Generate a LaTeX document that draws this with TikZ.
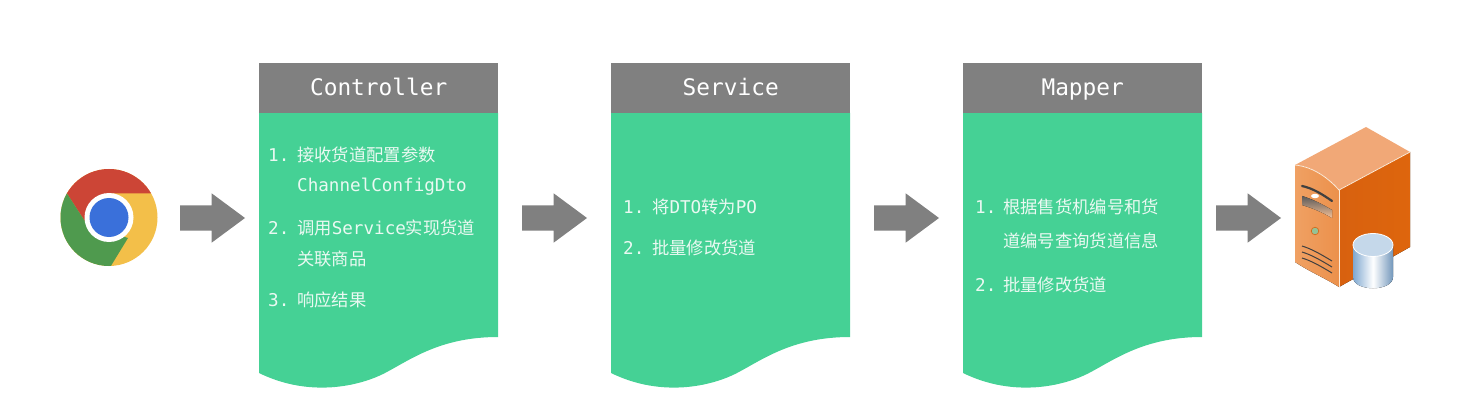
\documentclass[tikz,border=0pt]{standalone}
\usepackage{fontspec}
\newfontfamily\cnfont{Noto Sans CJK SC}
\newfontfamily\codefont{DejaVu Sans Mono}
\usetikzlibrary{shapes.arrows,positioning}

\begin{document}
\begin{tikzpicture}[
    x=1pt,y=-1pt,
    headbox/.style={fill=hdx,text=white,anchor=north west,inner sep=0pt,
        minimum width=239pt,minimum height=50pt,text height=18pt,text depth=4pt,
        font=\codefont\fontsize{22.8}{26}\selectfont},
    numtxt/.style={text=txx,anchor=west,inner sep=0pt,
        font=\codefont\fontsize{17.6}{20}\selectfont},
    rowtxt/.style={text=txx,anchor=west,inner sep=0pt,
        font=\cnfont\fontsize{17.3}{20}\selectfont},
    flowarrow/.style={single arrow,fill=hdx,inner sep=12.5pt,outer sep=0pt,
        minimum height=65pt,minimum width=49pt,anchor=tip,
        single arrow head extend=12pt,single arrow tip angle=73}
]
    \colorlet{hdx}{black!50}
    \definecolor{bdx}{HTML}{45D195}
    \definecolor{txx}{HTML}{EAF9F2}
    \definecolor{rdx}{HTML}{CC4536}
    \definecolor{gnx}{HTML}{4F9A4E}
    \definecolor{ylx}{HTML}{F3BF49}
    \definecolor{blx}{HTML}{3A70DA}
    \definecolor{orx}{HTML}{EE9652}
    \definecolor{oty}{HTML}{F1A877}
    \definecolor{osd}{HTML}{D8610F}
    \definecolor{cyx}{HTML}{7FA8D0}

    \useasboundingbox (0,0) rectangle (1461,406);

    \foreach \cx/\name/\title in {259/ctl/Controller,611/svc/Service,963/map/Mapper}{
        \begin{scope}[xshift=\cx pt]
            \fill [bdx] (0,113) -- (239,113) -- (239,337)
                .. controls (181,337) and (151,360) .. (126,373)
                .. controls (101,386) and (51,398) .. (0,373)
                -- cycle;
            \node [headbox] (\name head) at (0,63) {\title};
        \end{scope}
    }

    \node [numtxt] (ctln1) at (268,155) {1.};
    \node [rowtxt] (ctlr1) at (297,155) {接收货道配置参数};
    \node [rowtxt,font=\codefont\fontsize{17.6}{20}\selectfont] (ctlr1b) at (297,187) {ChannelConfigDto};
    \node [numtxt] (ctln2) at (268,228) {2.};
    \node [rowtxt] (ctlr2) at (297,228) {调用{\codefont\fontsize{17.6}{20}\selectfont Service}实现货道};
    \node [rowtxt] (ctlr2b) at (297,259) {关联商品};
    \node [numtxt] (ctln3) at (268,300) {3.};
    \node [rowtxt] (ctlr3) at (297,300) {响应结果};

    \node [numtxt] (svcn1) at (623,207) {1.};
    \node [rowtxt] (svcr1) at (652,207) {将{\codefont\fontsize{17.6}{20}\selectfont DTO}转为{\codefont\fontsize{17.6}{20}\selectfont PO}};
    \node [numtxt] (svcn2) at (623,248) {2.};
    \node [rowtxt] (svcr2) at (652,248) {批量修改货道};

    \node [numtxt] (mapn1) at (975,207) {1.};
    \node [rowtxt] (mapr1) at (1003,207) {根据售货机编号和货};
    \node [rowtxt] (mapr1b) at (1003,241) {道编号查询货道信息};
    \node [numtxt] (mapn2) at (975,285) {2.};
    \node [rowtxt] (mapr2) at (1003,285) {批量修改货道};

    \node [flowarrow] (arra) at (245,218) {};
    \node [flowarrow] (arrb) at (587,218) {};
    \node [flowarrow] (arrc) at (939,218) {};
    \node [flowarrow] (arrd) at (1281,218) {};

    \begin{scope}
        \clip (109,217.5) circle (48.5);
        \fill [ylx] (55,165) rectangle (165,270);
        \fill [rdx] (170,193.5) -- (170,160) -- (55,160) -- (55,175)
            -- (88,226) -- (109,193.5) -- cycle;
        \fill [gnx] (55,175) -- (88,226) -- (128,238) -- (106,274)
            -- (50,274) -- (50,175) -- cycle;
    \end{scope}
    \fill [white] (109,217.5) circle (24.5);
    \fill [blx] (109,217.5) circle (19.5);

    \fill [oty] (1295,165) -- (1366,127) -- (1410,152) -- (1339,190)
        .. controls (1330,180) and (1315,167) .. cycle;
    \fill [left color=osd,right color=osd!85!orange] (1339,190) -- (1410,152)
        -- (1410,247) -- (1339,287) -- cycle;
    \fill [left color=orx!90!white,right color=orx!90!osd] (1295,165)
        .. controls (1315,167) and (1330,180) .. (1339,190)
        -- (1339,287) .. controls (1325,278) and (1310,272) .. (1295,262) -- cycle;
    \draw [white!85!orange,line width=0.8pt] (1295,165)
        .. controls (1315,167) and (1330,180) .. (1339,190)
        -- (1410,152);
    \draw [white!85!orange,line width=0.8pt] (1339,190) -- (1339,287);

    \draw [black!75,line width=2.2pt,line cap=round] (1302,186)
        .. controls (1312,188) and (1322,194) .. (1332,201);
    \fill [white] (1315,196) ellipse (4 and 2.2);
    \fill [top color=black!65,bottom color=orx!60!white] (1302,196)
        .. controls (1312,199) and (1322,204) .. (1332,210)
        -- (1332,218) .. controls (1322,212) and (1312,208) .. (1302,205) -- cycle;
    \fill [gnx!60!white,draw=osd,line width=0.6pt] (1315,231) circle (3.8);
    \foreach \vy in {246,252,258}{
        \draw [black!75,line width=1pt] (1302,\vy)
            .. controls (1312,\vy+3) and (1322,\vy+9) .. (1332,\vy+15);
    }

    \fill [left color=cyx,right color=cyx!90!black,middle color=white]
        (1353,245) -- (1353,277)
        .. controls (1353,292) and (1393,292) .. (1393,277)
        -- (1393,245) -- cycle;
    \fill [cyx!45!white,draw=white,line width=0.8pt] (1373,245) ellipse (20 and 11.5);
\end{tikzpicture}
\end{document}
